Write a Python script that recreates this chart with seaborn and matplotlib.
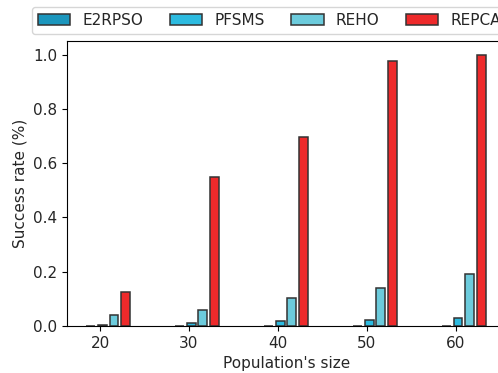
import numpy as np
import pandas as pd
import matplotlib
matplotlib.use("Agg")
import matplotlib.pyplot as plt
import seaborn as sns

sizes = [20, 30, 40, 50, 60]
methods = ["E2RPSO", "PFSMS", "REHO", "REPCA"]
e2rpso = [0.0, 0.0, 0.0, 0.0, 0.0]
pfsms = [0.003, 0.010, 0.018, 0.023, 0.028]
reho = [0.039, 0.058, 0.103, 0.140, 0.190]
repca = [0.125, 0.548, 0.695, 0.975, 1.0]
colors = ["#1b96bd", "#2cbbe0", "#6ccbdc", "#ee2a2b"]

rows = []
for m, vals in zip(methods, [e2rpso, pfsms, reho, repca]):
    for s, v in zip(sizes, vals):
        rows.append({"size": s, "method": m, "rate": v})
df = pd.DataFrame(rows)

plt.rcParams["font.family"] = ["DejaVu Sans"]
plt.rcParams["font.size"] = 11
plt.rcParams["text.color"] = "0.15"
plt.rcParams["axes.labelcolor"] = "0.15"
plt.rcParams["xtick.labelcolor"] = "0.15"
plt.rcParams["ytick.labelcolor"] = "0.15"

fig = plt.figure(figsize=(4.98, 3.73), dpi=100)
ax = fig.add_axes([66.7 / 498, 47 / 373, (505.8 - 66.7) / 498, (326 - 41) / 373])

sns.barplot(data=df, x="size", y="rate", hue="method", hue_order=methods,
            palette=colors, saturation=1, native_scale=True, width=0.52, gap=0.23,
            edgecolor="0.2", linewidth=1.1, errorbar=None, legend=False, ax=ax)

tick_shift = 0.92
ax.set_xticks(np.array(sizes) - tick_shift, labels=[str(s) for s in sizes])
ax.set_xlim(15.33, 64.73)
ax.set_ylim(0, 1.05)
ax.set_xlabel("Population's size", fontsize=11)
ax.set_ylabel("Success rate (%)", fontsize=11)
ax.tick_params(labelsize=11)
for sp in ax.spines.values():
    sp.set_color("black")

fig.legend(ax.containers, methods, ncol=4, loc="upper left",
           bbox_to_anchor=(32 / 498, 1 - 7 / 373), borderaxespad=0,
           fontsize=11, columnspacing=1.75, handlelength=2.1, handletextpad=0.8)

fig.savefig("out.png", dpi=100)
